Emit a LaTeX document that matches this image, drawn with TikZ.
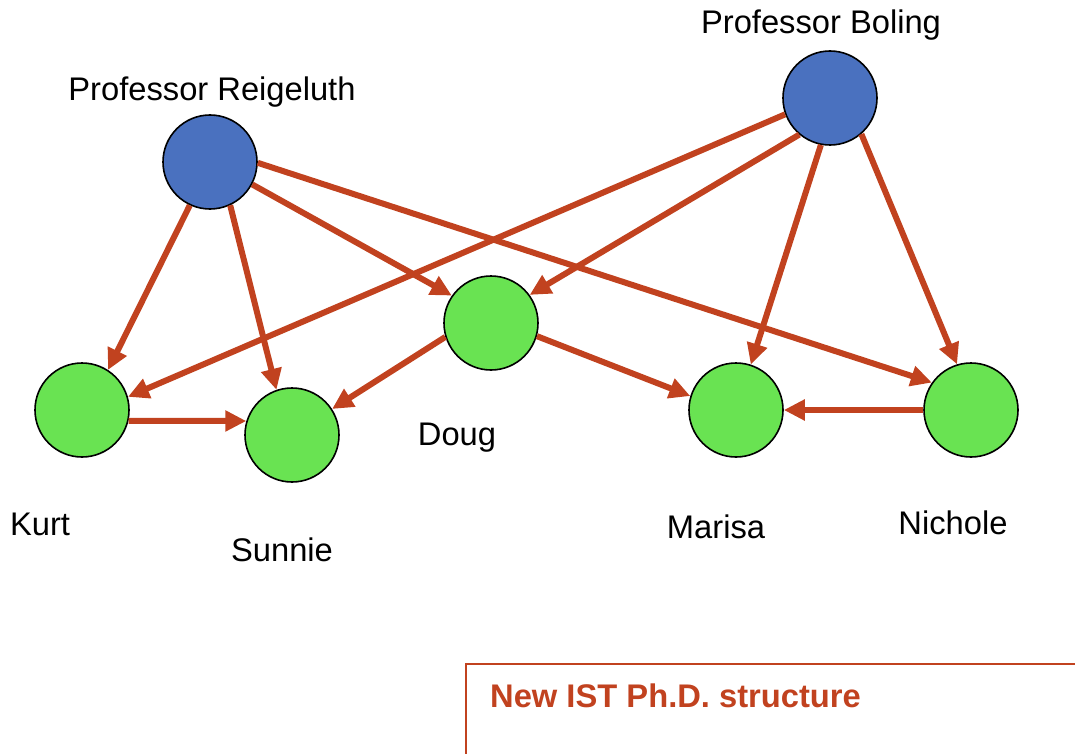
\documentclass[tikz,border=0pt]{standalone}
\usepackage{fontspec}
\setmainfont{Liberation Sans}
\usetikzlibrary{arrows.meta}
\definecolor{arrowred}{HTML}{C1421F}
\definecolor{profblue}{HTML}{4A71BF}
\definecolor{studgreen}{HTML}{69E352}
\tikzset{
  person/.style={circle, draw=black, line width=1.6pt, minimum size=94pt, inner sep=0pt},
  prof/.style={person, fill=profblue},
  stud/.style={person, fill=studgreen},
  lbl/.style={font=\fontsize{32.7}{36}\selectfont, inner sep=0pt},
  link/.style={draw=arrowred, line width=6pt, -{Triangle[length=21pt,width=20pt]}},
}
\begin{document}
\begin{tikzpicture}[x=1pt,y=-1pt]
\useasboundingbox (0,0) rectangle (1075,754);
% nodes
\node[prof] (R) at (210,162) {};
\node[prof] (B) at (830,98) {};
\node[stud] (K) at (82,410) {};
\node[stud] (S) at (292,435) {};
\node[stud] (D) at (491,323) {};
\node[stud] (M) at (736,410) {};
\node[stud] (N) at (971,410) {};
% labels
\node[lbl] (lR) at (212,92) {Professor Reigeluth};
\node[lbl] (lB) at (821,25) {Professor Boling};
\node[lbl] (lK) at (40,524) {Kurt};
\node[lbl] (lS) at (282,550) {Sunnie};
\node[lbl] (lD) at (457,438) {Doug};
\node[lbl] (lM) at (716,527) {Marisa};
\node[lbl] (lN) at (953,523) {Nichole};
% connectors
\draw[link] (R.-115) -- (K.57);
\draw[link] (R.-65) -- (S.109);
\draw[link] (R.-28) -- (D.145);
\draw[link] (R.-1) -- (N.145);
\draw[link] (B.-160) -- (K.16);
\draw[link] (B.-130) -- (D.36);
\draw[link] (B.-101) -- (M.72);
\draw[link] (B.-49) -- (N.107);
\draw[link] (D.-163) -- (S.33);
\draw[link] (D.-16) -- (M.163);
\draw[link] (K.-13) -- (S.163);
\draw[link] (N.180) -- (M.0);
% caption box
\coordinate (bl) at (466,760);
\coordinate (tl) at (466,664);
\coordinate (tr) at (1080,664);
\draw[arrowred, line width=2pt] (bl) -- (tl) -- (tr);
\node[anchor=west, text=arrowred, font=\fontsize{32.7}{36}\selectfont\bfseries, inner sep=0pt] (cap) at (490,696) {New IST Ph.D. structure};
\end{tikzpicture}
\end{document}
